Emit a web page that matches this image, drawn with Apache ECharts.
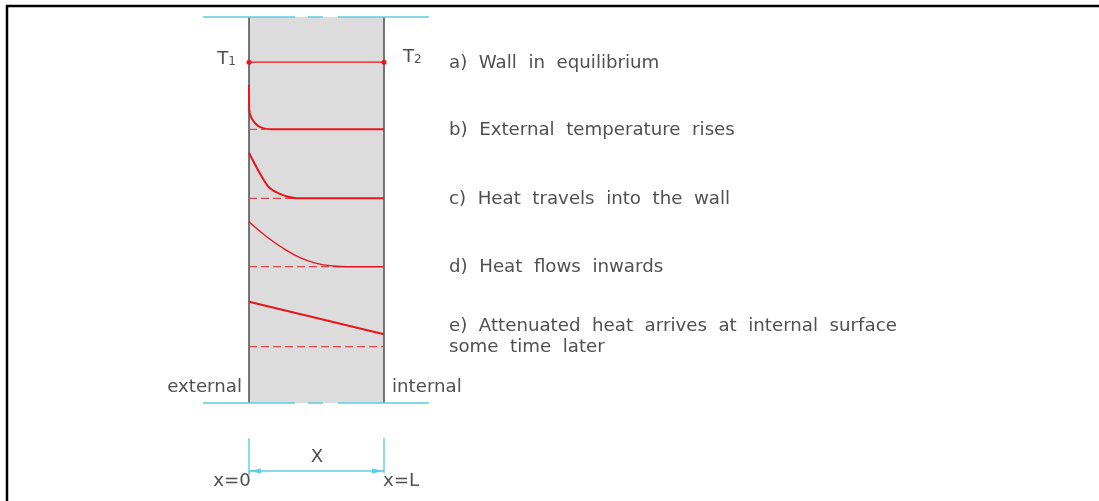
<!DOCTYPE html>
<html>
<head>
<meta charset="utf-8">
<script src="https://cdn.jsdelivr.net/npm/echarts@6/dist/echarts.min.js"></script>
<style>
    html,body{margin:0;padding:0;background:#fff;}
    #wall{width:1099px;height:501px;}
</style>
</head>
<body>
<div id="wall"></div>
<script>
// positions across the wall are x/L (0 = external face, 1 = internal face)
// heights are in units of the wall drawing (0 = bottom edge, 100 = top edge)
var wallPos = [0, 1];
var wallTop = [100, 100];
var centreLineEnds = [-0.341, 1.333];

var tempA = [88.3, 88.3];                                   // a) equilibrium
var posB = [0, 0.002, 0.015, 0.037, 0.067, 0.111, 0.17, 0.25, 1];  // b) external temp rises
var tempB = [82.4, 75.9, 74.1, 72.8, 71.8, 71.15, 70.9, 70.9, 70.9];
var posC = [0, 0.143, 0.23, 0.289, 0.353, 0.45, 1];          // c) heat travels into wall
var tempC = [64.85, 56.04, 54.15, 53.42, 53.03, 53.03, 53.03];
var posD = [0, 0.131, 0.254, 0.378, 0.501, 0.624, 0.723, 0.8, 1]; // d) heat flows inwards
var tempD = [46.97, 43.08, 40.08, 37.64, 36.19, 35.49, 35.31, 35.31, 35.31];
var tempE = [26.24, 17.8];                                  // e) attenuated heat

var baseTemp = [70.9, 53.03, 35.31, 14.59];                 // dashed start levels b..e
var baseEnd = [0.12, 0.35, 0.72, 1];

var dimLevel = -17.6;
var dimTop = -9.1;
var dimBottom = [-18.9, -18.2];

var captions = [
    'a)  Wall  in  equilibrium',
    'b)  External  temperature  rises',
    'c)  Heat  travels  into  the  wall',
    'd)  Heat  flows  inwards',
    'e)  Attenuated  heat  arrives  at  internal  surface',
    'some  time  later'
];
var captionY = [63, 130, 199, 267, 326, 347];

var red = '#e8161c';
var cyan = '#5ccfe0';
var textCol = '#505050';
var fontFam = 'DejaVu Sans';
var fontPx = 18.2;

function pairs(xs, ys) {
    var out = [];
    for (var i = 0; i < xs.length; i++) { out.push([xs[i], ys[i]]); }
    return out;
}

function plainLine(data, color, width, type, smooth) {
    return {
        type: 'line',
        data: data,
        clip: false,
        silent: true,
        showSymbol: false,
        smooth: smooth || false,
        animation: false,
        lineStyle: {color: color, width: width, type: type || 'solid'},
        z: 5
    };
}

var seriesList = [];

// wall body
seriesList.push({
    type: 'line',
    data: pairs(wallPos, wallTop),
    clip: false,
    silent: true,
    showSymbol: false,
    animation: false,
    lineStyle: {width: 0},
    areaStyle: {color: '#dcdcdc', opacity: 1},
    z: 1
});
// wall faces
seriesList.push(plainLine([[0, 0], [0, 100]], '#555', 1.6));
seriesList.push(plainLine([[1, 0], [1, 100]], '#555', 1.6));

// centre lines top and bottom
seriesList.push(plainLine([[centreLineEnds[0], 100], [centreLineEnds[1], 100]], cyan, 1.6, [92, 13, 15, 15]));
seriesList.push(plainLine([[centreLineEnds[0], 0], [centreLineEnds[1], 0]], cyan, 1.6, [92, 13, 15, 15]));

// dashed start levels
for (var k = 0; k < baseTemp.length; k++) {
    seriesList.push(plainLine([[0, baseTemp[k]], [baseEnd[k], baseTemp[k]]], '#e0474c', 1.2, [8, 4]));
}

// a)
seriesList.push({
    type: 'line',
    data: pairs(wallPos, tempA),
    clip: false,
    silent: true,
    animation: false,
    showSymbol: true,
    symbol: 'circle',
    symbolSize: 5,
    itemStyle: {color: red},
    lineStyle: {color: red, width: 1.4},
    z: 6
});
seriesList.push(plainLine(pairs(posB, tempB), red, 2, 'solid', 0.4));
seriesList.push(plainLine(pairs(posC, tempC), red, 2, 'solid', 0.3));
seriesList.push(plainLine(pairs(posD, tempD), red, 1.4, 'solid', 0.5));
seriesList.push(plainLine(pairs(wallPos, tempE), red, 2));

// dimension
seriesList.push(plainLine([[0, dimTop], [0, dimBottom[0]]], cyan, 1.4));
seriesList.push(plainLine([[1, dimTop], [1, dimBottom[1]]], cyan, 1.4));
seriesList.push({
    type: 'line',
    clip: false,
    silent: true,
    animation: false,
    showSymbol: true,
    showAllSymbol: true,
    itemStyle: {color: cyan},
    lineStyle: {color: cyan, width: 1.4},
    data: [
        {value: [0, dimLevel], symbol: 'triangle', symbolSize: [5, 12], symbolRotate: 90, symbolOffset: [6, 0]},
        {value: [1, dimLevel], symbol: 'triangle', symbolSize: [5, 12], symbolRotate: -90, symbolOffset: [-6, 0]}
    ],
    z: 5
});

var graphics = [
    {type: 'line', shape: {x1: 6, y1: 6, x2: 1099, y2: 6}, style: {stroke: '#000', lineWidth: 2.5}},
    {type: 'line', shape: {x1: 7, y1: 5, x2: 7, y2: 501}, style: {stroke: '#000', lineWidth: 2.5}}
];
function word(txt, x, y, align) {
    return {
        type: 'text', x: x, y: y,
        style: {text: txt, font: fontPx + 'px ' + fontFam, fill: textCol, align: align || 'left', verticalAlign: 'middle'}
    };
}
for (var c = 0; c < captions.length; c++) {
    graphics.push(word(captions[c], 449, captionY[c]));
}
graphics.push(word('external', 242, 387, 'right'));
graphics.push(word('internal', 392, 387));
graphics.push(word('X', 317, 457, 'center'));
graphics.push(word('x=0', 232, 481, 'center'));
graphics.push(word('x=L', 401, 481, 'center'));
function tLabel(n, x, y, align) {
    return {
        type: 'text', x: x, y: y,
        style: {
            text: 'T{s|' + n + '}', font: fontPx + 'px ' + fontFam, fill: textCol, align: align, verticalAlign: 'middle',
            rich: {s: {fontSize: 12, fontFamily: fontFam, fill: textCol, padding: [6, 0, 0, 0]}}
        }
    };
}
graphics.push(tLabel('1', 236, 59, 'right'));
graphics.push(tLabel('2', 403, 57, 'left'));

var chart = echarts.init(document.getElementById('wall'));
var option = {
    backgroundColor: '#fff',
    animation: false,
    grid: {left: 0, right: 0, top: 0, bottom: 0},
    // wall faces sit at 249px and 384px, wall edges at 17px and 403px
    xAxis: {type: 'value', min: -249 / 135, max: 850 / 135, show: false},
    yAxis: {type: 'value', min: -98 / 3.86, max: 100 + 17 / 3.86, show: false},
    series: seriesList,
    graphic: graphics
};
chart.setOption(option);
</script>
</body>
</html>
